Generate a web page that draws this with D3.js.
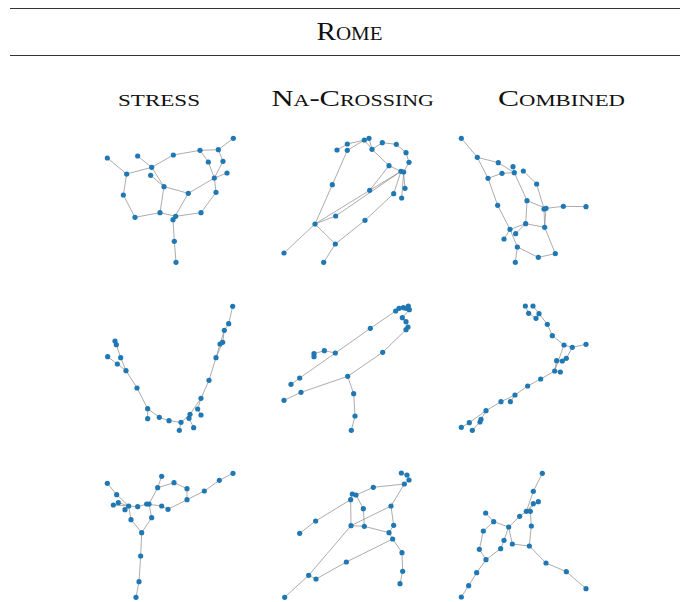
<!DOCTYPE html>
<html><head><meta charset="utf-8">
<script src="https://cdn.jsdelivr.net/npm/d3@7"></script>
<style>body{margin:0;background:#fff}svg{display:block}</style>
</head><body>
<script>
// Layout-space node coordinates (units) and edges, per drawing
const title = "Rome";
const methods = ["stress", "Na-Crossing", "Combined"];

const stress1Nodes = [["a",37,90],["b",95,138],["c",128,84],["d",170,118],["e",167,142],["f",235,81],["g",315,67],["h",370,65],["i",415,31],["j",340,102],["k",384,100],["l",358,150],["m",396,135],["n",207,176],["o",280,196],["p",363,193],["q",85,201],["r",120,268],["s",195,254],["t",242,265],["u",234,275],["v",318,254],["w",238,340],["x",243,403]];
const stress1Edges = [["a","b"],["b","d"],["c","d"],["d","f"],["f","g"],["g","h"],["h","i"],["g","j"],["h","k"],["j","l"],["k","l"],["l","m"],["d","n"],["e","n"],["n","o"],["o","l"],["l","p"],["p","v"],["v","t"],["b","q"],["q","r"],["r","s"],["s","n"],["s","t"],["o","u"],["u","w"],["w","x"]];

const na1Nodes = [["A",186,66],["B",217,48],["C",217,67],["D",268,36],["E",282,31],["F",291,64],["G",322,44],["H",364,49],["I",393,74],["J",402,103],["K",342,113],["L",378,130],["M",386,132],["N",390,181],["O",380,210],["P",356,197],["Q",172,170],["R",284,187],["S",182,264],["T",120,288],["U",270,277],["V",181,348],["W",27,375],["X",146,403]];
const na1Edges = [["A","B"],["B","D"],["C","D"],["C","Q"],["D","F"],["E","F"],["F","G"],["G","H"],["H","I"],["I","J"],["J","M"],["F","K"],["K","R"],["K","L"],["L","M"],["L","R"],["R","T"],["S","L"],["T","S"],["M","N"],["M","O"],["L","P"],["P","U"],["U","V"],["T","V"],["T","W"],["V","X"],["Q","T"]];

const comb1Nodes = [["a",34,31],["b",82,88],["c",145,104],["d",189,116],["e",193,134],["f",156,136],["g",220,129],["h",114,151],["i",260,168],["j",231,218],["k",143,232],["l",282,243],["m",288,241],["n",340,235],["o",408,236],["p",227,287],["q",284,298],["r",180,304],["s",197,317],["t",162,333],["u",202,357],["v",265,388],["w",316,377],["x",196,403]];
const comb1Edges = [["a","b"],["b","c"],["c","e"],["b","h"],["h","f"],["f","e"],["d","e"],["e","j"],["g","i"],["i","l"],["j","m"],["j","p"],["l","q"],["m","q"],["m","n"],["n","o"],["p","q"],["p","r"],["p","s"],["r","t"],["h","k"],["k","r"],["r","u"],["u","x"],["u","v"],["v","w"],["w","q"]];

const stress2Nodes = [["a",413,34],["b",401,86],["c",388,106],["d",383,142],["e",375,147],["f",363,188],["g",342,256],["h",318,310],["i",308,342],["j",318,360],["k",285,358],["l",282,370],["m",296,398],["n",258,382],["o",253,406],["p",222,377],["q",193,367],["r",158,341],["s",158,371],["t",126,279],["u",93,227],["v",67,207],["w",38,185],["x",77,188],["y",64,149],["z",60,138]];
const stress2Edges = [["a","b"],["b","c"],["c","d"],["c","e"],["d","f"],["e","f"],["f","g"],["g","h"],["h","i"],["i","j"],["h","k"],["k","l"],["l","m"],["k","n"],["n","o"],["n","p"],["p","q"],["q","r"],["r","s"],["r","t"],["t","u"],["u","v"],["v","w"],["u","x"],["x","y"],["y","z"]];

const na2Nodes = [["a",400,33],["b",393,40],["c",403,44],["d",385,38],["e",372,40],["f",362,48],["g",382,68],["h",393,80],["i",399,96],["j",393,104],["k",286,100],["l",323,172],["m",181,174],["n",148,167],["o",117,176],["p",117,185],["q",74,249],["r",48,268],["s",218,244],["t",78,292],["u",27,316],["v",236,296],["w",240,363],["x",229,406]];
const na2Edges = [["a","b"],["b","c"],["d","e"],["e","f"],["d","a"],["c","g"],["g","h"],["h","i"],["i","j"],["f","k"],["k","m"],["m","n"],["n","o"],["o","p"],["m","q"],["q","r"],["j","l"],["l","s"],["s","t"],["t","u"],["s","v"],["v","w"],["w","x"]];

const comb2Nodes = [["a",226,33],["b",249,33],["c",236,55],["d",267,56],["e",258,70],["f",292,88],["g",307,122],["h",342,150],["i",367,157],["j",408,148],["k",349,190],["l",337,198],["m",320,197],["n",314,228],["o",331,231],["p",272,252],["q",233,273],["r",195,300],["s",181,320],["t",153,320],["u",108,347],["v",93,373],["w",90,381],["x",58,383],["y",34,397],["z",67,406]];
const comb2Edges = [["a","c"],["b","d"],["c","e"],["d","e"],["d","f"],["f","g"],["g","h"],["h","i"],["i","j"],["h","n"],["i","k"],["k","l"],["l","m"],["m","n"],["n","o"],["n","p"],["p","q"],["q","r"],["r","s"],["r","t"],["t","u"],["u","v"],["v","w"],["w","z"],["u","x"],["x","y"]];

const stress3Nodes = [["a",37,64],["b",65,98],["c",55,129],["d",70,122],["e",90,143],["f",101,132],["g",128,134],["h",155,126],["i",162,126],["j",200,43],["k",188,77],["l",237,62],["m",276,80],["n",276,113],["o",328,87],["p",373,55],["q",414,34],["r",200,132],["s",219,142],["t",108,173],["u",170,167],["v",140,212],["w",137,282],["x",132,359],["y",123,406]];
const stress3Edges = [["a","b"],["b","f"],["c","f"],["d","f"],["e","f"],["f","g"],["g","h"],["h","i"],["i","k"],["k","j"],["k","l"],["l","m"],["m","n"],["n","o"],["o","p"],["p","q"],["n","s"],["h","r"],["r","s"],["f","t"],["t","v"],["i","u"],["u","v"],["v","w"],["w","x"],["x","y"]];

const na3Nodes = [["a",379,33],["b",396,39],["c",402,54],["d",388,66],["e",295,76],["f",232,96],["g",243,99],["h",227,113],["i",265,140],["j",348,132],["k",122,177],["l",74,214],["m",228,191],["n",268,193],["o",356,190],["p",342,212],["q",353,231],["r",381,272],["s",383,328],["t",375,365],["u",214,300],["v",101,340],["w",123,351],["x",29,406]];
const na3Edges = [["a","b"],["b","c"],["c","d"],["d","e"],["e","g"],["f","g"],["f","h"],["d","j"],["j","m"],["j","o"],["h","m"],["m","n"],["n","i"],["i","g"],["n","p"],["o","p"],["p","q"],["q","u"],["u","w"],["m","v"],["v","x"],["v","w"],["h","k"],["k","l"],["q","r"],["r","s"],["s","t"]];

const comb3Nodes = [["a",277,34],["b",250,88],["c",265,119],["d",250,125],["e",229,148],["f",241,148],["g",209,163],["h",244,192],["i",176,195],["j",107,153],["k",131,179],["l",100,207],["m",162,235],["n",88,262],["o",152,260],["p",187,246],["q",238,252],["r",108,293],["s",80,332],["t",56,371],["u",34,405],["v",288,303],["w",349,329],["x",408,380]];
const comb3Edges = [["a","b"],["b","e"],["c","e"],["d","e"],["e","f"],["e","g"],["g","i"],["f","h"],["h","q"],["q","p"],["p","i"],["i","k"],["k","j"],["i","m"],["m","o"],["o","r"],["k","l"],["l","n"],["n","r"],["r","s"],["s","t"],["t","u"],["q","v"],["v","w"],["w","x"]];

const drawings = [
  [stress1Nodes, stress1Edges], [na1Nodes, na1Edges], [comb1Nodes, comb1Edges],
  [stress2Nodes, stress2Edges], [na2Nodes, na2Edges], [comb2Nodes, comb2Edges],
  [stress3Nodes, stress3Edges], [na3Nodes, na3Edges], [comb3Nodes, comb3Edges]
];

const W = 683, H = 602;
const svg = d3.select("body").append("svg").attr("width", W).attr("height", H);
const serif = "'Liberation Serif','Times New Roman',serif";

// small-caps label: capitals/punctuation at full size, lowercase as smaller capitals
function smallCaps(sel, str, size, x0, x1, baseline) {
  const t = sel.append("text").attr("x", x0).attr("y", baseline)
    .attr("textLength", x1 - x0).attr("lengthAdjust", "spacingAndGlyphs")
    .style("font-family", serif).attr("fill", "#111");
  const runs = [];
  for (const ch of str) {
    const small = ch !== ch.toUpperCase();
    if (runs.length && runs[runs.length - 1].small === small) runs[runs.length - 1].s += ch;
    else runs.push({small, s: ch});
  }
  t.selectAll("tspan").data(runs).join("tspan")
    .style("font-size", r => (r.small ? size * 0.72 : size) + "px")
    .text(r => r.s.toUpperCase());
}

// header rules and title
svg.append("line").attr("x1", 10).attr("x2", 680).attr("y1", 8.5).attr("y2", 8.5).attr("stroke", "#333").attr("stroke-width", 1);
svg.append("line").attr("x1", 10).attr("x2", 680).attr("y1", 55.5).attr("y2", 55.5).attr("stroke", "#333").attr("stroke-width", 1);
smallCaps(svg, title, 25.5, 316.5, 382.5, 39.5);

const headSpan = d3.scaleOrdinal().domain(methods).range([[118, 200], [271.5, 434], [498, 625]]);
methods.forEach(m => smallCaps(svg, m, 23.7, headSpan(m)[0], headSpan(m)[1], 105.8));

const colX = d3.scaleOrdinal().domain([0,1,2]).range([95, 275, 450]);
const rowY = d3.scaleOrdinal().domain([0,1,2]).range([128, 295, 462]);

const sx = d3.scaleLinear().domain([0, 450]).range([0, 150]);
const sy = d3.scaleLinear().domain([0, 450]).range([0, 150]);

drawings.forEach(([nodes, edges], idx) => {
  const g = svg.append("g").attr("transform", `translate(${colX(idx % 3)},${rowY(Math.floor(idx / 3))})`);
  const byId = new Map(nodes.map(n => [n[0], n]));
  g.selectAll("line").data(edges).join("line")
    .attr("x1", e => sx(byId.get(e[0])[1])).attr("y1", e => sy(byId.get(e[0])[2]))
    .attr("x2", e => sx(byId.get(e[1])[1])).attr("y2", e => sy(byId.get(e[1])[2]))
    .attr("stroke", "#888").attr("stroke-width", 0.7);
  g.selectAll("circle").data(nodes).join("circle")
    .attr("cx", n => sx(n[1])).attr("cy", n => sy(n[2])).attr("r", 2.6)
    .attr("fill", "#1f77b4");
});
</script>
</body></html>
